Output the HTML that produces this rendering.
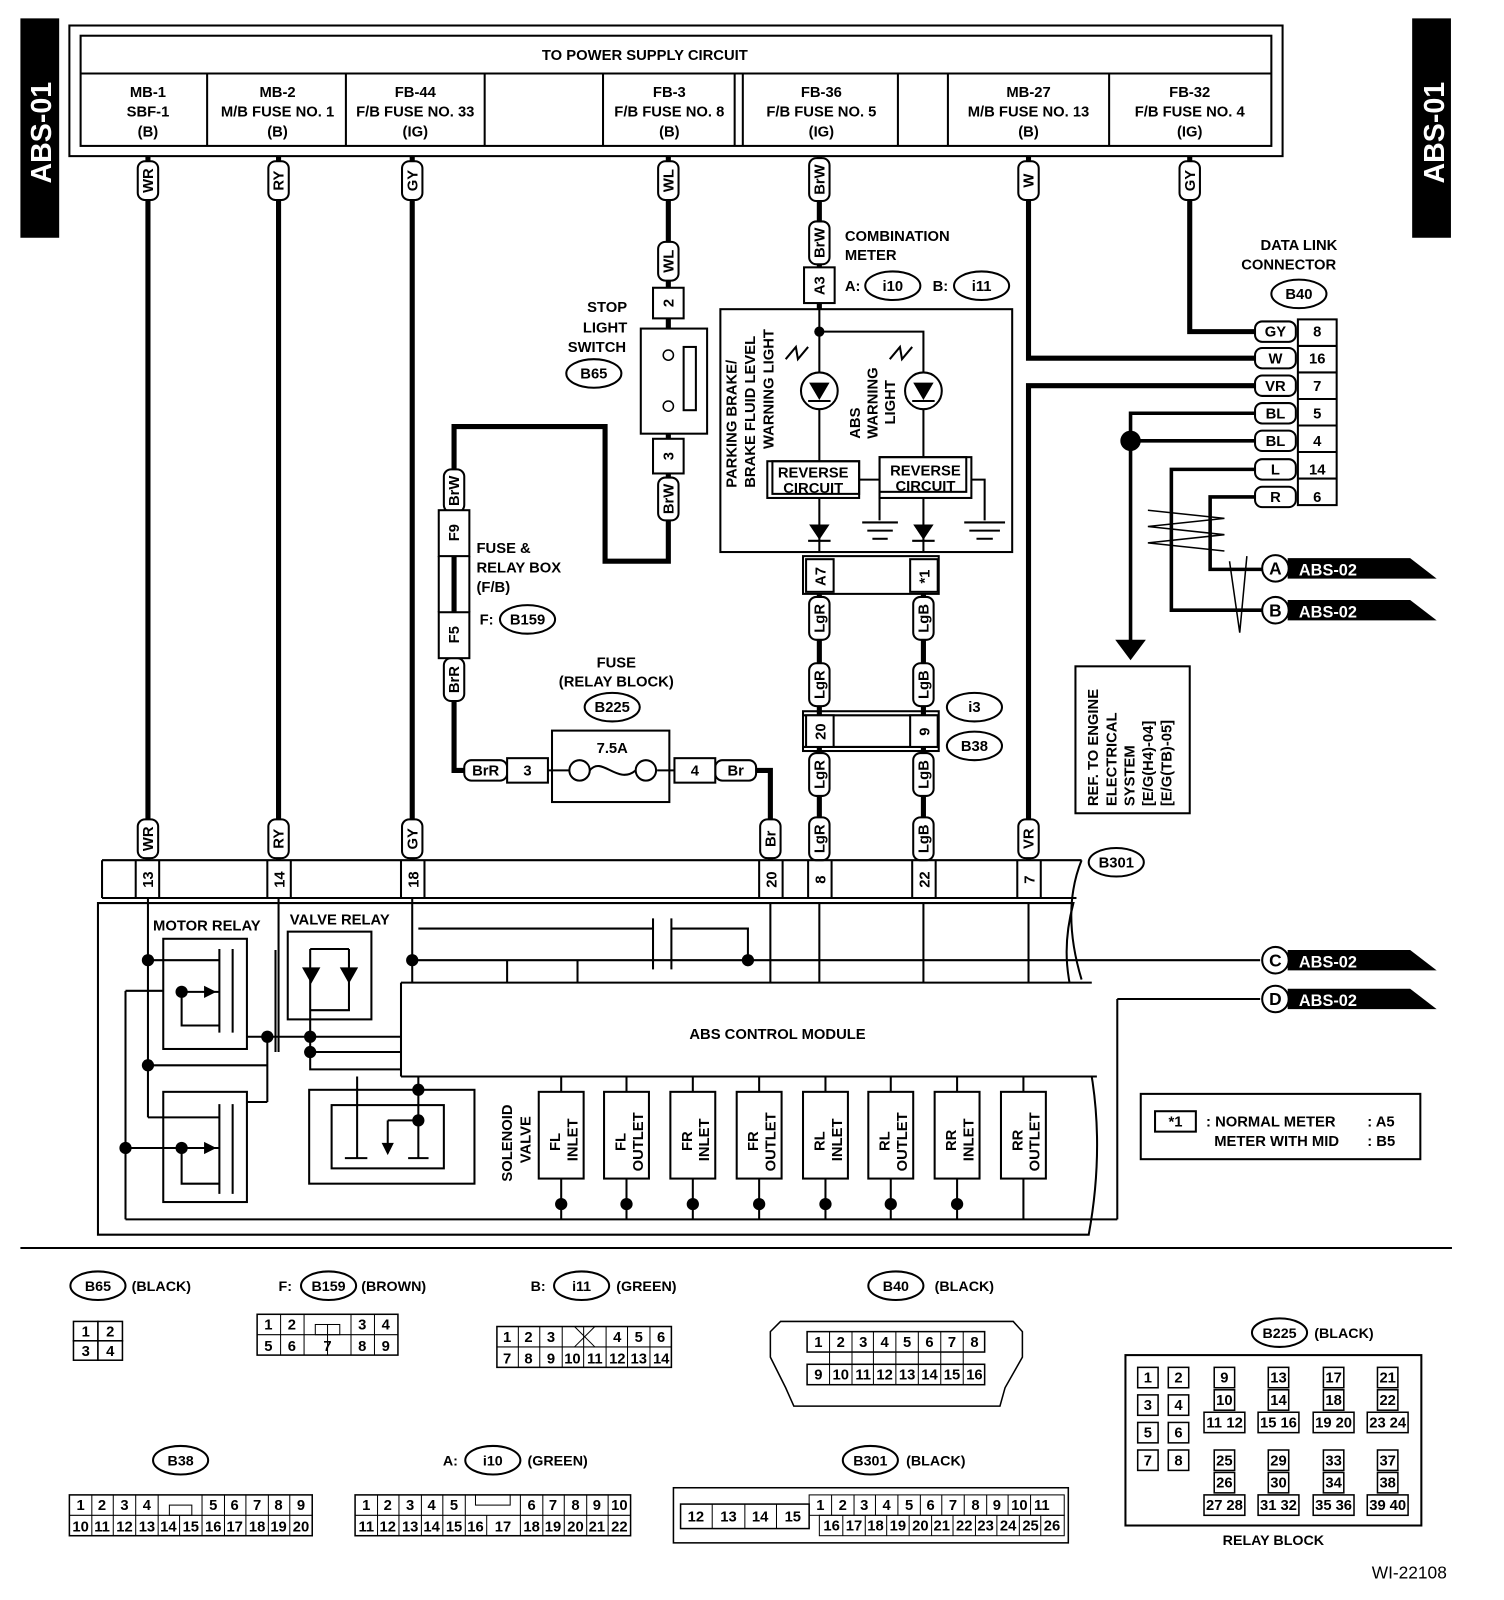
<!DOCTYPE html>
<html><head><meta charset="utf-8"><style>
html,body{margin:0;padding:0;background:#fff}
svg{display:block}
text{font-family:"Liberation Sans",sans-serif;font-size:14.5px;font-weight:bold;fill:#000}
.w{fill:none;stroke:#000;stroke-width:5}
.t{fill:none;stroke:#000;stroke-width:2}
.lb{fill:#fff;stroke:#000;stroke-width:2}
.c{fill:#fff;stroke:#000;stroke-width:1.5}
.s{font-size:13px;font-weight:normal}
</style></head><body>
<svg width="1504" height="1600" viewBox="0 0 1474 1568" preserveAspectRatio="none" xmlns="http://www.w3.org/2000/svg">
<!-- side tabs -->
<rect x="20" y="18" width="38" height="215" fill="#000"/>
<text transform="translate(50,130) rotate(-90)" text-anchor="middle" style="fill:#fff;font-size:28px">ABS-01</text>
<rect x="1384" y="18" width="38" height="215" fill="#000"/>
<text transform="translate(1415,130) rotate(-90)" text-anchor="middle" style="fill:#fff;font-size:28px">ABS-01</text>

<!-- top power box -->
<rect x="68" y="25" width="1189" height="128" class="t"/>
<rect x="79" y="35" width="1167" height="108" class="t"/>
<line x1="79" y1="72" x2="1246" y2="72" class="t"/>
<text x="632" y="59" text-anchor="middle">TO POWER SUPPLY CIRCUIT</text>
<g class="t"><line x1="203" y1="72" x2="203" y2="143"/><line x1="339" y1="72" x2="339" y2="143"/><line x1="475" y1="72" x2="475" y2="143"/><line x1="591" y1="72" x2="591" y2="143"/><line x1="720" y1="72" x2="720" y2="143"/><line x1="728" y1="72" x2="728" y2="143"/><line x1="880" y1="72" x2="880" y2="143"/><line x1="929" y1="72" x2="929" y2="143"/><line x1="1087" y1="72" x2="1087" y2="143"/></g>
<g text-anchor="middle">
<text x="145" y="95">MB-1</text><text x="145" y="114">SBF-1</text><text x="145" y="134">(B)</text>
<text x="272" y="95">MB-2</text><text x="272" y="114">M/B FUSE NO. 1</text><text x="272" y="134">(B)</text>
<text x="407" y="95">FB-44</text><text x="407" y="114">F/B FUSE NO. 33</text><text x="407" y="134">(IG)</text>
<text x="656" y="95">FB-3</text><text x="656" y="114">F/B FUSE NO. 8</text><text x="656" y="134">(B)</text>
<text x="805" y="95">FB-36</text><text x="805" y="114">F/B FUSE NO. 5</text><text x="805" y="134">(IG)</text>
<text x="1008" y="95">MB-27</text><text x="1008" y="114">M/B FUSE NO. 13</text><text x="1008" y="134">(B)</text>
<text x="1166" y="95">FB-32</text><text x="1166" y="114">F/B FUSE NO. 4</text><text x="1166" y="134">(IG)</text>
</g>

<!-- wires -->
<g class="w">
<line x1="145" y1="153" x2="145" y2="843"/>
<line x1="273" y1="153" x2="273" y2="843"/>
<line x1="404" y1="153" x2="404" y2="843"/>
<polyline points="655,153 655,322"/>
<polyline points="655,425 655,550 593,550 593,418 445,418 445,755 455,755"/>
<polyline points="741,755 755,755 755,843"/>
<polyline points="803,153 803,303"/>
<line x1="803" y1="582" x2="803" y2="843"/>
<line x1="905" y1="582" x2="905" y2="843"/>
<polyline points="1008,153 1008,351 1230,351"/>
<polyline points="1230,378 1008,378 1008,843"/>
<polyline points="1166,153 1166,325 1230,325"/>
</g>
<g class="t" style="stroke-width:3.5">
<polyline points="1230,405 1108,405 1108,630"/>
<line x1="1108" y1="432" x2="1230" y2="432"/>
<polyline points="1230,460 1148,460 1148,598 1240,598"/>
<polyline points="1230,487 1186,487 1186,558 1240,558"/>
</g>
<polygon points="1093,627 1123,627 1108,647" fill="#000"/>
<circle cx="1108" cy="432" r="10" fill="#000"/>
<polyline points="1125,500 1200,508 1125,516 1200,524 1125,532 1200,540" class="t" style="stroke-width:1.5"/>
<polyline points="1205,550 1215,620 1222,545" class="t" style="stroke-width:1.5"/>

<!-- wire labels -->
<g>
<rect x="135" y="158" width="20" height="38" rx="7" class="lb"/><text transform="translate(150,177) rotate(-90)" text-anchor="middle">WR</text>
<rect x="263" y="158" width="20" height="38" rx="7" class="lb"/><text transform="translate(278,177) rotate(-90)" text-anchor="middle">RY</text>
<rect x="394" y="158" width="20" height="38" rx="7" class="lb"/><text transform="translate(409,177) rotate(-90)" text-anchor="middle">GY</text>
<rect x="645" y="158" width="20" height="38" rx="7" class="lb"/><text transform="translate(660,177) rotate(-90)" text-anchor="middle">WL</text>
<rect x="793" y="155" width="20" height="42" rx="7" class="lb"/><text transform="translate(808,176) rotate(-90)" text-anchor="middle">BrW</text>
<rect x="998" y="158" width="20" height="38" rx="7" class="lb"/><text transform="translate(1013,177) rotate(-90)" text-anchor="middle">W</text>
<rect x="1156" y="158" width="20" height="38" rx="7" class="lb"/><text transform="translate(1171,177) rotate(-90)" text-anchor="middle">GY</text>

<rect x="135" y="803" width="20" height="38" rx="7" class="lb"/><text transform="translate(150,822) rotate(-90)" text-anchor="middle">WR</text>
<rect x="263" y="803" width="20" height="38" rx="7" class="lb"/><text transform="translate(278,822) rotate(-90)" text-anchor="middle">RY</text>
<rect x="394" y="803" width="20" height="38" rx="7" class="lb"/><text transform="translate(409,822) rotate(-90)" text-anchor="middle">GY</text>
<rect x="745" y="803" width="20" height="38" rx="7" class="lb"/><text transform="translate(760,822) rotate(-90)" text-anchor="middle">Br</text>
<rect x="793" y="801" width="20" height="42" rx="7" class="lb"/><text transform="translate(808,822) rotate(-90)" text-anchor="middle">LgR</text>
<rect x="895" y="801" width="20" height="42" rx="7" class="lb"/><text transform="translate(910,822) rotate(-90)" text-anchor="middle">LgB</text>
<rect x="998" y="803" width="20" height="38" rx="7" class="lb"/><text transform="translate(1013,822) rotate(-90)" text-anchor="middle">VR</text>

<rect x="645" y="237" width="20" height="38" rx="7" class="lb"/><text transform="translate(660,256) rotate(-90)" text-anchor="middle">WL</text>
<rect x="645" y="468" width="20" height="42" rx="7" class="lb"/><text transform="translate(660,489) rotate(-90)" text-anchor="middle">BrW</text>
<rect x="793" y="217" width="20" height="42" rx="7" class="lb"/><text transform="translate(808,238) rotate(-90)" text-anchor="middle">BrW</text>
<rect x="435" y="460" width="20" height="42" rx="7" class="lb"/><text transform="translate(450,481) rotate(-90)" text-anchor="middle">BrW</text>
<rect x="435" y="645" width="20" height="42" rx="7" class="lb"/><text transform="translate(450,666) rotate(-90)" text-anchor="middle">BrR</text>
<rect x="793" y="585" width="20" height="42" rx="7" class="lb"/><text transform="translate(808,606) rotate(-90)" text-anchor="middle">LgR</text>
<rect x="895" y="585" width="20" height="42" rx="7" class="lb"/><text transform="translate(910,606) rotate(-90)" text-anchor="middle">LgB</text>
<rect x="793" y="650" width="20" height="42" rx="7" class="lb"/><text transform="translate(808,671) rotate(-90)" text-anchor="middle">LgR</text>
<rect x="895" y="650" width="20" height="42" rx="7" class="lb"/><text transform="translate(910,671) rotate(-90)" text-anchor="middle">LgB</text>
<rect x="793" y="738" width="20" height="42" rx="7" class="lb"/><text transform="translate(808,759) rotate(-90)" text-anchor="middle">LgR</text>
<rect x="895" y="738" width="20" height="42" rx="7" class="lb"/><text transform="translate(910,759) rotate(-90)" text-anchor="middle">LgB</text>
<rect x="455" y="745" width="42" height="20" rx="7" class="lb"/><text x="476" y="760" text-anchor="middle">BrR</text>
<rect x="701" y="745" width="40" height="20" rx="7" class="lb"/><text x="721" y="760" text-anchor="middle">Br</text>
</g>

<!-- stop light switch -->
<rect x="640" y="282" width="30" height="30" class="lb"/><text transform="translate(660,297) rotate(-90)" text-anchor="middle">2</text>
<rect x="640" y="430" width="30" height="34" class="lb"/><text transform="translate(660,447) rotate(-90)" text-anchor="middle">3</text>
<rect x="628" y="322" width="65" height="103" class="t"/>
<rect x="670" y="340" width="12" height="62" class="t"/>
<circle cx="655" cy="348" r="5" class="c"/><circle cx="655" cy="398" r="5" class="c"/>
<g text-anchor="middle"><text x="595" y="306">STOP</text><text x="593" y="326">LIGHT</text><text x="585" y="345">SWITCH</text></g>
<ellipse cx="582" cy="366" rx="27" ry="14" class="lb"/><text x="582" y="371" text-anchor="middle">B65</text>

<!-- fuse & relay box -->
<rect x="430" y="500" width="30" height="45" class="lb"/><text transform="translate(450,522) rotate(-90)" text-anchor="middle">F9</text>
<rect x="430" y="600" width="30" height="45" class="lb"/><text transform="translate(450,622) rotate(-90)" text-anchor="middle">F5</text>
<line x1="430" y1="545" x2="430" y2="600" class="t"/><line x1="460" y1="545" x2="460" y2="600" class="t"/>
<text x="467" y="542">FUSE &amp;</text><text x="467" y="561">RELAY BOX</text><text x="467" y="580">(F/B)</text>
<text x="470" y="612">F:</text><ellipse cx="517" cy="607" rx="27" ry="14" class="lb"/><text x="517" y="612" text-anchor="middle">B159</text>

<!-- fuse relay block -->
<g text-anchor="middle"><text x="604" y="654">FUSE</text><text x="604" y="673">(RELAY BLOCK)</text></g>
<ellipse cx="600" cy="693" rx="27" ry="14" class="lb"/><text x="600" y="698" text-anchor="middle">B225</text>
<rect x="497" y="743" width="40" height="24" class="lb"/><text x="517" y="760" text-anchor="middle">3</text>
<rect x="661" y="743" width="40" height="24" class="lb"/><text x="681" y="760" text-anchor="middle">4</text>
<rect x="541" y="716" width="115" height="70" class="t"/>
<line x1="537" y1="755" x2="558" y2="755" class="t"/><line x1="644" y1="755" x2="661" y2="755" class="t"/>
<circle cx="568" cy="755" r="10" class="c" style="stroke-width:2"/><circle cx="633" cy="755" r="10" class="c" style="stroke-width:2"/>
<path d="M578,755 C590,740 605,770 623,755" class="t"/>
<text x="600" y="738" text-anchor="middle">7.5A</text>

<!-- combination meter -->
<rect x="788" y="262" width="30" height="35" class="lb"/><text transform="translate(808,280) rotate(-90)" text-anchor="middle">A3</text>
<text x="828" y="236">COMBINATION</text><text x="828" y="255">METER</text>
<text x="828" y="285">A:</text><ellipse cx="875" cy="280" rx="27" ry="14" class="lb"/><text x="875" y="285" text-anchor="middle">i10</text>
<text x="914" y="285">B:</text><ellipse cx="962" cy="280" rx="27" ry="14" class="lb"/><text x="962" y="285" text-anchor="middle">i11</text>
<rect x="706" y="303" width="286" height="238" class="t"/>
<g class="t">
<line x1="803" y1="303" x2="803" y2="365"/><polyline points="803,325 905,325 905,365"/>
<line x1="803" y1="401" x2="803" y2="455"/><line x1="905" y1="401" x2="905" y2="450"/>
<line x1="803" y1="488" x2="803" y2="541"/><line x1="905" y1="488" x2="905" y2="541"/>
<polyline points="842,470 862,470 862,510"/><polyline points="952,470 965,470 965,510"/>
<line x1="845" y1="512" x2="880" y2="512"/><line x1="850" y1="520" x2="875" y2="520"/><line x1="855" y1="528" x2="870" y2="528"/>
<line x1="945" y1="512" x2="985" y2="512"/><line x1="950" y1="520" x2="980" y2="520"/><line x1="957" y1="528" x2="973" y2="528"/>
<circle cx="803" cy="383" r="18"/><circle cx="905" cy="383" r="18"/>
<polyline points="770,352 780,340 782,352 792,340"/><polyline points="872,352 882,340 884,352 894,340"/>
</g>
<circle cx="803" cy="325" r="5" fill="#000"/>
<polygon points="793,375 813,375 803,392" fill="#000"/><line x1="792" y1="393" x2="814" y2="393" class="t"/>
<polygon points="895,375 915,375 905,392" fill="#000"/><line x1="894" y1="393" x2="916" y2="393" class="t"/>
<polygon points="793,514 813,514 803,529" fill="#000"/><line x1="792" y1="530" x2="814" y2="530" class="t"/>
<polygon points="895,514 915,514 905,529" fill="#000"/><line x1="894" y1="530" x2="916" y2="530" class="t"/>
<rect x="752" y="452" width="90" height="36" class="lb"/><rect x="757" y="452" width="85" height="32" class="t"/>
<text x="797" y="468" text-anchor="middle">REVERSE</text><text x="797" y="483" text-anchor="middle">CIRCUIT</text>
<rect x="862" y="448" width="90" height="40" class="lb"/><rect x="862" y="448" width="85" height="34" class="t"/>
<text x="907" y="466" text-anchor="middle">REVERSE</text><text x="907" y="481" text-anchor="middle">CIRCUIT</text>
<text transform="translate(740,478) rotate(-90)">BRAKE FLUID LEVEL</text>
<text transform="translate(722,478) rotate(-90)">PARKING BRAKE/</text>
<text transform="translate(758,440) rotate(-90)">WARNING LIGHT</text>
<text transform="translate(843,430) rotate(-90)">ABS</text>
<text transform="translate(860,430) rotate(-90)">WARNING</text>
<text transform="translate(877,416) rotate(-90)">LIGHT</text>

<!-- connectors A7/*1 and 20/9 -->
<rect x="787" y="545" width="133" height="37" class="t"/><line x1="787" y1="541" x2="920" y2="541" class="t"/>
<rect x="790" y="548" width="27" height="32" class="lb"/><text transform="translate(809,565) rotate(-90)" text-anchor="middle">A7</text>
<rect x="892" y="548" width="27" height="32" class="lb"/><text transform="translate(911,565) rotate(-90)" text-anchor="middle">*1</text>
<rect x="787" y="697" width="133" height="39" class="t"/><line x1="787" y1="701" x2="920" y2="701" class="t"/><line x1="787" y1="732" x2="920" y2="732" class="t"/>
<rect x="790" y="701" width="27" height="31" class="lb"/><text transform="translate(809,717) rotate(-90)" text-anchor="middle">20</text>
<rect x="892" y="701" width="27" height="31" class="lb"/><text transform="translate(911,717) rotate(-90)" text-anchor="middle">9</text>
<ellipse cx="955" cy="693" rx="27" ry="14" class="lb"/><text x="955" y="698" text-anchor="middle">i3</text>
<ellipse cx="955" cy="731" rx="27" ry="14" class="lb"/><text x="955" y="736" text-anchor="middle">B38</text>

<!-- data link connector -->
<g text-anchor="middle"><text x="1273" y="245">DATA LINK</text><text x="1263" y="264">CONNECTOR</text></g>
<ellipse cx="1273" cy="288" rx="27" ry="14" class="lb"/><text x="1273" y="293" text-anchor="middle">B40</text>
<g>
<rect x="1272" y="313" width="38" height="182" class="t"/>
<g class="t"><line x1="1272" y1="339" x2="1310" y2="339"/><line x1="1272" y1="365" x2="1310" y2="365"/><line x1="1272" y1="391" x2="1310" y2="391"/><line x1="1272" y1="417" x2="1310" y2="417"/><line x1="1272" y1="443" x2="1310" y2="443"/><line x1="1272" y1="469" x2="1310" y2="469"/></g>
<g text-anchor="middle">
<rect x="1230" y="315" width="40" height="20" rx="7" class="lb"/><text x="1250" y="330">GY</text><text x="1291" y="330">8</text>
<rect x="1230" y="341" width="40" height="20" rx="7" class="lb"/><text x="1250" y="356">W</text><text x="1291" y="356">16</text>
<rect x="1230" y="368" width="40" height="20" rx="7" class="lb"/><text x="1250" y="383">VR</text><text x="1291" y="383">7</text>
<rect x="1230" y="395" width="40" height="20" rx="7" class="lb"/><text x="1250" y="410">BL</text><text x="1291" y="410">5</text>
<rect x="1230" y="422" width="40" height="20" rx="7" class="lb"/><text x="1250" y="437">BL</text><text x="1291" y="437">4</text>
<rect x="1230" y="450" width="40" height="20" rx="7" class="lb"/><text x="1250" y="465">L</text><text x="1291" y="465">14</text>
<rect x="1230" y="477" width="40" height="20" rx="7" class="lb"/><text x="1250" y="492">R</text><text x="1291" y="492">6</text>
</g></g>

<!-- ABS-02 tags -->
<g>
<polygon points="1262,547 1382,547 1408,567 1262,567" fill="#000"/><circle cx="1250" cy="557" r="13" class="lb"/><text x="1250" y="563" text-anchor="middle" style="font-size:17px">A</text><text x="1273" y="564" style="fill:#fff;font-size:16px">ABS-02</text>
<polygon points="1262,588 1382,588 1408,608 1262,608" fill="#000"/><circle cx="1250" cy="598" r="13" class="lb"/><text x="1250" y="604" text-anchor="middle" style="font-size:17px">B</text><text x="1273" y="605" style="fill:#fff;font-size:16px">ABS-02</text>
<polygon points="1262,931 1382,931 1408,951 1262,951" fill="#000"/><circle cx="1250" cy="941" r="13" class="lb"/><text x="1250" y="947" text-anchor="middle" style="font-size:17px">C</text><text x="1273" y="948" style="fill:#fff;font-size:16px">ABS-02</text>
<polygon points="1262,969 1382,969 1408,989 1262,989" fill="#000"/><circle cx="1250" cy="979" r="13" class="lb"/><text x="1250" y="985" text-anchor="middle" style="font-size:17px">D</text><text x="1273" y="986" style="fill:#fff;font-size:16px">ABS-02</text>
</g>

<!-- ref box -->
<rect x="1054" y="653" width="112" height="144" class="t"/>
<g><text transform="translate(1076,790) rotate(-90)">REF. TO ENGINE</text><text transform="translate(1094,790) rotate(-90)">ELECTRICAL</text><text transform="translate(1112,790) rotate(-90)">SYSTEM</text><text transform="translate(1130,790) rotate(-90)">[E/G(H4)-04]</text><text transform="translate(1148,790) rotate(-90)">[E/G(TB)-05]</text></g>

<!-- B301 connector row -->
<path d="M100,843 L1060,843 M100,880 L1055,880 M100,843 L100,880" class="t"/>
<ellipse cx="1094" cy="845" rx="27" ry="14" class="lb"/><text x="1094" y="850" text-anchor="middle">B301</text>
<g class="t"><line x1="133" y1="843" x2="133" y2="880"/><line x1="156" y1="843" x2="156" y2="880"/><line x1="262" y1="843" x2="262" y2="880"/><line x1="285" y1="843" x2="285" y2="880"/><line x1="393" y1="843" x2="393" y2="880"/><line x1="416" y1="843" x2="416" y2="880"/><line x1="744" y1="843" x2="744" y2="880"/><line x1="767" y1="843" x2="767" y2="880"/><line x1="792" y1="843" x2="792" y2="880"/><line x1="815" y1="843" x2="815" y2="880"/><line x1="894" y1="843" x2="894" y2="880"/><line x1="917" y1="843" x2="917" y2="880"/><line x1="997" y1="843" x2="997" y2="880"/><line x1="1020" y1="843" x2="1020" y2="880"/></g>
<g><text transform="translate(150,862) rotate(-90)" text-anchor="middle">13</text><text transform="translate(279,862) rotate(-90)" text-anchor="middle">14</text><text transform="translate(410,862) rotate(-90)" text-anchor="middle">18</text><text transform="translate(761,862) rotate(-90)" text-anchor="middle">20</text><text transform="translate(809,862) rotate(-90)" text-anchor="middle">8</text><text transform="translate(911,862) rotate(-90)" text-anchor="middle">22</text><text transform="translate(1014,862) rotate(-90)" text-anchor="middle">7</text></g>

<!-- module outline -->
<path d="M96,885 L1052,885 C1040,930 1045,960 1060,1010 C1080,1080 1078,1150 1067,1210 L96,1210 Z" class="t"/>
<path d="M1060,843 C1045,880 1048,920 1060,960" class="t"/>
<g class="t">
<line x1="755" y1="885" x2="755" y2="963"/><line x1="803" y1="885" x2="803" y2="963"/><line x1="905" y1="885" x2="905" y2="963"/><line x1="1008" y1="885" x2="1008" y2="963"/>
<line x1="145" y1="880" x2="145" y2="1095"/><line x1="273" y1="880" x2="273" y2="1031"/><line x1="404" y1="880" x2="404" y2="1015"/>
<line x1="404" y1="941" x2="1235" y2="941"/>
<polyline points="410,910 640,910"/><polyline points="658,910 733,910 733,941"/>
<line x1="640" y1="900" x2="640" y2="950"/><line x1="658" y1="900" x2="658" y2="950"/>
<line x1="1095" y1="979" x2="1235" y2="979"/><line x1="1095" y1="979" x2="1095" y2="1195"/>
<line x1="123" y1="1195" x2="1095" y2="1195"/><line x1="123" y1="971" x2="123" y2="1195"/><line x1="123" y1="971" x2="160" y2="971"/>
<polyline points="497,941 497,1012 566,1012 566,941"/>
</g>
<polygon points="522,1002 522,1022 538,1012" fill="#000"/><line x1="539" y1="1002" x2="539" y2="1022" class="t"/>
<circle cx="404" cy="941" r="6" fill="#000"/><circle cx="733" cy="941" r="6" fill="#000"/>
<rect x="393" y="963" width="682" height="92" fill="#fff" stroke="none"/>
<path d="M393,963 L1070,963 M393,1055 L1075,1055 M393,963 L393,1055" class="t"/>
<text x="762" y="1018" text-anchor="middle">ABS CONTROL MODULE</text>

<!-- relays -->
<text x="150" y="912">MOTOR RELAY</text><text x="284" y="906">VALVE RELAY</text>
<rect x="160" y="920" width="82" height="108" class="t"/>
<rect x="160" y="1070" width="82" height="108" class="t"/>
<rect x="282" y="913" width="82" height="86" class="t"/>
<rect x="303" y="1068" width="162" height="92" class="t"/>
<rect x="325" y="1083" width="110" height="62" class="t"/>
<g class="t">
<line x1="145" y1="941" x2="215" y2="941"/><line x1="215" y1="930" x2="215" y2="1012"/><line x1="228" y1="930" x2="228" y2="1012"/>
<polyline points="178,972 215,972"/><polyline points="178,972 178,1005 215,1005"/><line x1="145" y1="1044" x2="262" y2="1044"/><line x1="262" y1="1016" x2="262" y2="1080"/><line x1="242" y1="1016" x2="393" y2="1016"/>
<line x1="215" y1="1082" x2="215" y2="1170"/><line x1="228" y1="1082" x2="228" y2="1170"/>
<line x1="123" y1="1125" x2="215" y2="1125"/><polyline points="178,1125 178,1160 215,1160"/><line x1="145" y1="1095" x2="215" y2="1095"/>
<line x1="242" y1="1080" x2="262" y2="1080"/>
<polyline points="304,930 304,1048 393,1048"/><polyline points="342,930 342,990 304,990"/><line x1="304" y1="930" x2="342" y2="930"/>
<line x1="304" y1="1031" x2="393" y2="1031"/>
<line x1="270" y1="931" x2="270" y2="1031"/>
<polyline points="350,1055 350,1135"/><polyline points="410,1055 410,1135"/><polyline points="380,1098 410,1098"/><line x1="380" y1="1098" x2="380" y2="1130"/>
<line x1="338" y1="1135" x2="360" y2="1135"/><line x1="400" y1="1135" x2="420" y2="1135"/>
</g>
<polygon points="296,948 314,948 305,964" fill="#000"/><polygon points="333,948 351,948 342,964" fill="#000"/>
<polygon points="200,966 200,978 212,972" fill="#000"/><polygon points="200,1119 200,1131 212,1125" fill="#000"/><polygon points="374,1120 386,1120 380,1132" fill="#000"/>
<g fill="#000"><circle cx="145" cy="941" r="6"/><circle cx="145" cy="1044" r="6"/><circle cx="178" cy="972" r="6"/><circle cx="262" cy="1016" r="6"/><circle cx="304" cy="1016" r="6"/><circle cx="304" cy="1031" r="6"/><circle cx="410" cy="1068" r="6"/><circle cx="410" cy="1098" r="6"/><circle cx="123" cy="1125" r="6"/><circle cx="178" cy="1125" r="6"/></g>

<!-- solenoids -->
<text transform="translate(502,1158) rotate(-90)">SOLENOID</text><text transform="translate(520,1140) rotate(-90)">VALVE</text>
<g class="t"><line x1="550" y1="1155" x2="550" y2="1195"/><line x1="614" y1="1155" x2="614" y2="1195"/><line x1="679" y1="1155" x2="679" y2="1195"/><line x1="744" y1="1155" x2="744" y2="1195"/><line x1="809" y1="1155" x2="809" y2="1195"/><line x1="873" y1="1155" x2="873" y2="1195"/><line x1="938" y1="1155" x2="938" y2="1195"/><line x1="1003" y1="1155" x2="1003" y2="1195"/>
<line x1="550" y1="1055" x2="550" y2="1070"/><line x1="614" y1="1055" x2="614" y2="1070"/><line x1="679" y1="1055" x2="679" y2="1070"/><line x1="744" y1="1055" x2="744" y2="1070"/><line x1="809" y1="1055" x2="809" y2="1070"/><line x1="873" y1="1055" x2="873" y2="1070"/><line x1="938" y1="1055" x2="938" y2="1070"/><line x1="1003" y1="1055" x2="1003" y2="1070"/></g>
<g class="t"><rect x="528" y="1070" width="44" height="85"/><rect x="592" y="1070" width="44" height="85"/><rect x="657" y="1070" width="44" height="85"/><rect x="722" y="1070" width="44" height="85"/><rect x="787" y="1070" width="44" height="85"/><rect x="851" y="1070" width="44" height="85"/><rect x="916" y="1070" width="44" height="85"/><rect x="981" y="1070" width="44" height="85"/></g>
<g fill="#000"><circle cx="550" cy="1180" r="6"/><circle cx="614" cy="1180" r="6"/><circle cx="679" cy="1180" r="6"/><circle cx="744" cy="1180" r="6"/><circle cx="809" cy="1180" r="6"/><circle cx="873" cy="1180" r="6"/><circle cx="938" cy="1180" r="6"/></g>
<g>
<text transform="translate(549,1128) rotate(-90)">FL</text><text transform="translate(566,1138) rotate(-90)">INLET</text>
<text transform="translate(613,1128) rotate(-90)">FL</text><text transform="translate(630,1148) rotate(-90)">OUTLET</text>
<text transform="translate(678,1128) rotate(-90)">FR</text><text transform="translate(695,1138) rotate(-90)">INLET</text>
<text transform="translate(743,1128) rotate(-90)">FR</text><text transform="translate(760,1148) rotate(-90)">OUTLET</text>
<text transform="translate(808,1128) rotate(-90)">RL</text><text transform="translate(825,1138) rotate(-90)">INLET</text>
<text transform="translate(872,1128) rotate(-90)">RL</text><text transform="translate(889,1148) rotate(-90)">OUTLET</text>
<text transform="translate(937,1128) rotate(-90)">RR</text><text transform="translate(954,1138) rotate(-90)">INLET</text>
<text transform="translate(1002,1128) rotate(-90)">RR</text><text transform="translate(1019,1148) rotate(-90)">OUTLET</text>
</g>

<!-- note -->
<rect x="1118" y="1072" width="274" height="64" class="t"/>
<rect x="1132" y="1089" width="40" height="20" class="t"/><text x="1152" y="1104" text-anchor="middle">*1</text>
<text x="1182" y="1104">: NORMAL METER</text><text x="1340" y="1104">: A5</text>
<text x="1190" y="1123">METER WITH MID</text><text x="1340" y="1123">: B5</text>

<line x1="20" y1="1223" x2="1423" y2="1223" class="t"/>

<!-- bottom connectors -->
<g class="s">
<ellipse cx="96" cy="1260" rx="27" ry="14" class="lb"/><text x="96" y="1265" text-anchor="middle" style="font-weight:bold;font-size:14px">B65</text><text x="129" y="1265" style="font-weight:bold;font-size:14px">(BLACK)</text>
<g class="c"><rect x="72" y="1295" width="24" height="19"/><rect x="96" y="1295" width="24" height="19"/><rect x="72" y="1314" width="24" height="19"/><rect x="96" y="1314" width="24" height="19"/></g>
<text x="84" y="1310" text-anchor="middle">1</text><text x="108" y="1310" text-anchor="middle">2</text><text x="84" y="1329" text-anchor="middle">3</text><text x="108" y="1329" text-anchor="middle">4</text>

<text x="273" y="1265" style="font-weight:bold;font-size:14px">F:</text><ellipse cx="322" cy="1260" rx="27" ry="14" class="lb"/><text x="322" y="1265" text-anchor="middle" style="font-weight:bold;font-size:14px">B159</text><text x="354" y="1265" style="font-weight:bold;font-size:14px">(BROWN)</text>
<rect x="252" y="1288" width="138" height="40" class="c"/>
<g class="t" style="stroke-width:1"><line x1="252" y1="1308" x2="390" y2="1308"/><line x1="275" y1="1288" x2="275" y2="1328"/><line x1="298" y1="1288" x2="298" y2="1328"/><line x1="321" y1="1298" x2="321" y2="1328"/><line x1="344" y1="1288" x2="344" y2="1328"/><line x1="367" y1="1288" x2="367" y2="1328"/><rect x="309" y="1298" width="24" height="10"/></g>
<g text-anchor="middle"><text x="263" y="1303">1</text><text x="286" y="1303">2</text><text x="355" y="1303">3</text><text x="378" y="1303">4</text><text x="263" y="1324">5</text><text x="286" y="1324">6</text><text x="321" y="1324">7</text><text x="355" y="1324">8</text><text x="378" y="1324">9</text></g>

<text x="520" y="1265" style="font-weight:bold;font-size:14px">B:</text><ellipse cx="570" cy="1260" rx="27" ry="14" class="lb"/><text x="570" y="1265" text-anchor="middle" style="font-weight:bold;font-size:14px">i11</text><text x="604" y="1265" style="font-weight:bold;font-size:14px">(GREEN)</text>
<rect x="487" y="1300" width="171" height="40" class="c"/>
<g class="t" style="stroke-width:1"><line x1="487" y1="1320" x2="658" y2="1320"/><line x1="508" y1="1300" x2="508" y2="1340"/><line x1="529" y1="1300" x2="529" y2="1340"/><line x1="551" y1="1300" x2="551" y2="1340"/><line x1="572" y1="1300" x2="572" y2="1340"/><line x1="594" y1="1300" x2="594" y2="1340"/><line x1="615" y1="1300" x2="615" y2="1340"/><line x1="637" y1="1300" x2="637" y2="1340"/><line x1="563" y1="1300" x2="583" y2="1320"/><line x1="583" y1="1300" x2="563" y2="1320"/></g>
<g text-anchor="middle"><text x="497" y="1315">1</text><text x="518" y="1315">2</text><text x="540" y="1315">3</text><text x="605" y="1315">4</text><text x="626" y="1315">5</text><text x="648" y="1315">6</text>
<text x="497" y="1336">7</text><text x="518" y="1336">8</text><text x="540" y="1336">9</text><text x="561" y="1336">10</text><text x="583" y="1336">11</text><text x="605" y="1336">12</text><text x="626" y="1336">13</text><text x="648" y="1336">14</text></g>

<ellipse cx="878" cy="1260" rx="27" ry="14" class="lb"/><text x="878" y="1265" text-anchor="middle" style="font-weight:bold;font-size:14px">B40</text><text x="916" y="1265" style="font-weight:bold;font-size:14px">(BLACK)</text>
<polygon points="765,1295 993,1295 1002,1305 1002,1330 985,1360 980,1378 778,1378 770,1360 755,1330 755,1305" class="c"/>
<rect x="791" y="1305" width="174" height="20" class="c"/><rect x="791" y="1337" width="174" height="20" class="c"/>
<g class="t" style="stroke-width:1"><line x1="813" y1="1305" x2="813" y2="1357"/><line x1="835" y1="1305" x2="835" y2="1357"/><line x1="856" y1="1305" x2="856" y2="1357"/><line x1="878" y1="1305" x2="878" y2="1357"/><line x1="900" y1="1305" x2="900" y2="1357"/><line x1="922" y1="1305" x2="922" y2="1357"/><line x1="944" y1="1305" x2="944" y2="1357"/></g>
<g text-anchor="middle"><text x="802" y="1320">1</text><text x="824" y="1320">2</text><text x="846" y="1320">3</text><text x="867" y="1320">4</text><text x="889" y="1320">5</text><text x="911" y="1320">6</text><text x="933" y="1320">7</text><text x="955" y="1320">8</text>
<text x="802" y="1352">9</text><text x="824" y="1352">10</text><text x="846" y="1352">11</text><text x="867" y="1352">12</text><text x="889" y="1352">13</text><text x="911" y="1352">14</text><text x="933" y="1352">15</text><text x="955" y="1352">16</text></g>

<ellipse cx="1254" cy="1306" rx="27" ry="14" class="lb"/><text x="1254" y="1311" text-anchor="middle" style="font-weight:bold;font-size:14px">B225</text><text x="1288" y="1311" style="font-weight:bold;font-size:14px">(BLACK)</text>
<rect x="1103" y="1328" width="290" height="167" class="t"/>
<g class="c">
<rect x="1115" y="1340" width="20" height="20"/><rect x="1145" y="1340" width="20" height="20"/><rect x="1115" y="1367" width="20" height="20"/><rect x="1145" y="1367" width="20" height="20"/><rect x="1115" y="1394" width="20" height="20"/><rect x="1145" y="1394" width="20" height="20"/><rect x="1115" y="1421" width="20" height="20"/><rect x="1145" y="1421" width="20" height="20"/>
<rect x="1190" y="1340" width="20" height="20"/><rect x="1190" y="1362" width="20" height="20"/><rect x="1180" y="1384" width="40" height="20"/>
<rect x="1243" y="1340" width="20" height="20"/><rect x="1243" y="1362" width="20" height="20"/><rect x="1233" y="1384" width="40" height="20"/>
<rect x="1297" y="1340" width="20" height="20"/><rect x="1297" y="1362" width="20" height="20"/><rect x="1287" y="1384" width="40" height="20"/>
<rect x="1350" y="1340" width="20" height="20"/><rect x="1350" y="1362" width="20" height="20"/><rect x="1340" y="1384" width="40" height="20"/>
<rect x="1190" y="1421" width="20" height="20"/><rect x="1190" y="1443" width="20" height="20"/><rect x="1180" y="1465" width="40" height="20"/>
<rect x="1243" y="1421" width="20" height="20"/><rect x="1243" y="1443" width="20" height="20"/><rect x="1233" y="1465" width="40" height="20"/>
<rect x="1297" y="1421" width="20" height="20"/><rect x="1297" y="1443" width="20" height="20"/><rect x="1287" y="1465" width="40" height="20"/>
<rect x="1350" y="1421" width="20" height="20"/><rect x="1350" y="1443" width="20" height="20"/><rect x="1340" y="1465" width="40" height="20"/>
</g>
<g text-anchor="middle">
<text x="1125" y="1355">1</text><text x="1155" y="1355">2</text><text x="1125" y="1382">3</text><text x="1155" y="1382">4</text><text x="1125" y="1409">5</text><text x="1155" y="1409">6</text><text x="1125" y="1436">7</text><text x="1155" y="1436">8</text>
<text x="1200" y="1355">9</text><text x="1200" y="1377">10</text><text x="1190" y="1399">11</text><text x="1210" y="1399">12</text>
<text x="1253" y="1355">13</text><text x="1253" y="1377">14</text><text x="1243" y="1399">15</text><text x="1263" y="1399">16</text>
<text x="1307" y="1355">17</text><text x="1307" y="1377">18</text><text x="1297" y="1399">19</text><text x="1317" y="1399">20</text>
<text x="1360" y="1355">21</text><text x="1360" y="1377">22</text><text x="1350" y="1399">23</text><text x="1370" y="1399">24</text>
<text x="1200" y="1436">25</text><text x="1200" y="1458">26</text><text x="1190" y="1480">27</text><text x="1210" y="1480">28</text>
<text x="1253" y="1436">29</text><text x="1253" y="1458">30</text><text x="1243" y="1480">31</text><text x="1263" y="1480">32</text>
<text x="1307" y="1436">33</text><text x="1307" y="1458">34</text><text x="1297" y="1480">35</text><text x="1317" y="1480">36</text>
<text x="1360" y="1436">37</text><text x="1360" y="1458">38</text><text x="1350" y="1480">39</text><text x="1370" y="1480">40</text>
</g>
<text x="1248" y="1514" text-anchor="middle" style="font-weight:bold;font-size:14px">RELAY BLOCK</text>

<ellipse cx="177" cy="1431" rx="27" ry="14" class="lb"/><text x="177" y="1436" text-anchor="middle" style="font-weight:bold;font-size:14px">B38</text>
<rect x="68" y="1465" width="238" height="40" class="c"/>
<g class="t" style="stroke-width:1"><line x1="68" y1="1485" x2="306" y2="1485"/>
<line x1="90" y1="1465" x2="90" y2="1505"/><line x1="111" y1="1465" x2="111" y2="1505"/><line x1="133" y1="1465" x2="133" y2="1505"/><line x1="155" y1="1465" x2="155" y2="1505"/><line x1="176" y1="1485" x2="176" y2="1505"/><line x1="198" y1="1465" x2="198" y2="1505"/><line x1="220" y1="1465" x2="220" y2="1505"/><line x1="241" y1="1465" x2="241" y2="1505"/><line x1="263" y1="1465" x2="263" y2="1505"/><line x1="284" y1="1465" x2="284" y2="1505"/><rect x="166" y="1475" width="22" height="10"/></g>
<g text-anchor="middle"><text x="79" y="1480">1</text><text x="100" y="1480">2</text><text x="122" y="1480">3</text><text x="144" y="1480">4</text><text x="209" y="1480">5</text><text x="230" y="1480">6</text><text x="252" y="1480">7</text><text x="273" y="1480">8</text><text x="295" y="1480">9</text>
<text x="79" y="1501">10</text><text x="100" y="1501">11</text><text x="122" y="1501">12</text><text x="144" y="1501">13</text><text x="165" y="1501">14</text><text x="187" y="1501">15</text><text x="209" y="1501">16</text><text x="230" y="1501">17</text><text x="252" y="1501">18</text><text x="273" y="1501">19</text><text x="295" y="1501">20</text></g>

<text x="434" y="1436" style="font-weight:bold;font-size:14px">A:</text><ellipse cx="483" cy="1431" rx="27" ry="14" class="lb"/><text x="483" y="1436" text-anchor="middle" style="font-weight:bold;font-size:14px">i10</text><text x="517" y="1436" style="font-weight:bold;font-size:14px">(GREEN)</text>
<rect x="348" y="1465" width="270" height="40" class="c"/>
<g class="t" style="stroke-width:1"><line x1="348" y1="1485" x2="618" y2="1485"/>
<line x1="370" y1="1465" x2="370" y2="1505"/><line x1="391" y1="1465" x2="391" y2="1505"/><line x1="413" y1="1465" x2="413" y2="1505"/><line x1="434" y1="1465" x2="434" y2="1505"/><line x1="456" y1="1465" x2="456" y2="1505"/><line x1="477" y1="1485" x2="477" y2="1505"/><line x1="510" y1="1465" x2="510" y2="1505"/><line x1="532" y1="1465" x2="532" y2="1505"/><line x1="553" y1="1465" x2="553" y2="1505"/><line x1="575" y1="1465" x2="575" y2="1505"/><line x1="596" y1="1465" x2="596" y2="1505"/><rect x="466" y="1465" width="34" height="10"/></g>
<g text-anchor="middle"><text x="359" y="1480">1</text><text x="380" y="1480">2</text><text x="402" y="1480">3</text><text x="423" y="1480">4</text><text x="445" y="1480">5</text><text x="521" y="1480">6</text><text x="542" y="1480">7</text><text x="564" y="1480">8</text><text x="585" y="1480">9</text><text x="607" y="1480">10</text>
<text x="359" y="1501">11</text><text x="380" y="1501">12</text><text x="402" y="1501">13</text><text x="423" y="1501">14</text><text x="445" y="1501">15</text><text x="466" y="1501">16</text><text x="493" y="1501">17</text><text x="521" y="1501">18</text><text x="542" y="1501">19</text><text x="564" y="1501">20</text><text x="585" y="1501">21</text><text x="607" y="1501">22</text></g>

<ellipse cx="853" cy="1431" rx="27" ry="14" class="lb"/><text x="853" y="1436" text-anchor="middle" style="font-weight:bold;font-size:14px">B301</text><text x="888" y="1436" style="font-weight:bold;font-size:14px">(BLACK)</text>
<rect x="660" y="1458" width="387" height="54" class="c"/>
<rect x="667" y="1474" width="126" height="24" class="c"/>
<g class="t" style="stroke-width:1"><line x1="698" y1="1474" x2="698" y2="1498"/><line x1="730" y1="1474" x2="730" y2="1498"/><line x1="761" y1="1474" x2="761" y2="1498"/>
<rect x="793" y="1465" width="250" height="20"/><rect x="803" y="1485" width="240" height="20"/>
<line x1="815" y1="1465" x2="815" y2="1485"/><line x1="837" y1="1465" x2="837" y2="1485"/><line x1="858" y1="1465" x2="858" y2="1485"/><line x1="880" y1="1465" x2="880" y2="1485"/><line x1="902" y1="1465" x2="902" y2="1485"/><line x1="923" y1="1465" x2="923" y2="1485"/><line x1="945" y1="1465" x2="945" y2="1485"/><line x1="967" y1="1465" x2="967" y2="1485"/><line x1="988" y1="1465" x2="988" y2="1485"/><line x1="1010" y1="1465" x2="1010" y2="1485"/>
<line x1="826" y1="1485" x2="826" y2="1505"/><line x1="848" y1="1485" x2="848" y2="1505"/><line x1="869" y1="1485" x2="869" y2="1505"/><line x1="891" y1="1485" x2="891" y2="1505"/><line x1="913" y1="1485" x2="913" y2="1505"/><line x1="934" y1="1485" x2="934" y2="1505"/><line x1="956" y1="1485" x2="956" y2="1505"/><line x1="977" y1="1485" x2="977" y2="1505"/><line x1="999" y1="1485" x2="999" y2="1505"/><line x1="1020" y1="1485" x2="1020" y2="1505"/></g>
<g text-anchor="middle"><text x="682" y="1491">12</text><text x="714" y="1491">13</text><text x="745" y="1491">14</text><text x="777" y="1491">15</text>
<text x="804" y="1480">1</text><text x="826" y="1480">2</text><text x="847" y="1480">3</text><text x="869" y="1480">4</text><text x="891" y="1480">5</text><text x="912" y="1480">6</text><text x="934" y="1480">7</text><text x="956" y="1480">8</text><text x="977" y="1480">9</text><text x="999" y="1480">10</text><text x="1021" y="1480">11</text>
<text x="815" y="1500">16</text><text x="837" y="1500">17</text><text x="858" y="1500">18</text><text x="880" y="1500">19</text><text x="902" y="1500">20</text><text x="923" y="1500">21</text><text x="945" y="1500">22</text><text x="966" y="1500">23</text><text x="988" y="1500">24</text><text x="1010" y="1500">25</text><text x="1031" y="1500">26</text></g>
</g>
<text x="1418" y="1547" text-anchor="end" style="font-weight:normal;font-size:17px">WI-22108</text>
</svg>
</body></html>
